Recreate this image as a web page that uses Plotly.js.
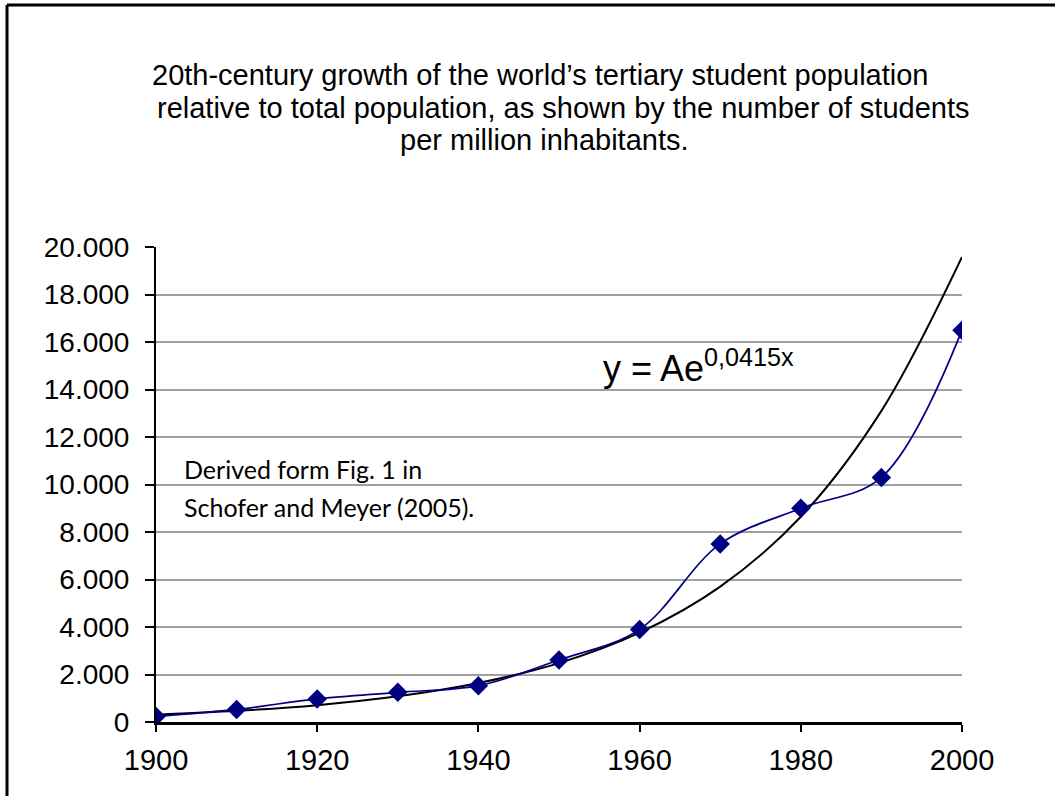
<!DOCTYPE html>
<html>
<head>
<meta charset="utf-8">
<script src="https://cdn.plot.ly/plotly-3.0.1.min.js"></script>
<style>
  html, body { margin: 0; padding: 0; background: #fff; overflow: hidden; }
  #chart { width: 1055px; height: 796px; }
</style>
</head>
<body>
<div id="chart"></div>
<script>
// ---- data ----
const years = [1900, 1910, 1920, 1930, 1940, 1950, 1960, 1970, 1980, 1990, 2000];
const studentsPerMillion = [230, 530, 970, 1250, 1530, 2610, 3900, 7500, 9000, 10300, 16500];
const trendValues = [310, 470, 710, 1080, 1640, 2480, 3760, 5700, 8640, 13100, 19580];
const yTicks = [0, 2000, 4000, 6000, 8000, 10000, 12000, 14000, 16000, 18000, 20000];
const xTicks = [1900, 1920, 1940, 1960, 1980, 2000];
const titleLines = [
  "20th-century growth of the world\u2019s tertiary student population",
  "relative to total population, as shown by the number of students",
  "per million inhabitants."
];
const equationText = "y = Ae<sup>0,0415x</sup>";
const sourceLines = ["Derived form Fig. 1 in", "Schofer and Meyer (2005)."];

// ---- layout geometry (pixels) ----
const W = 1055, H = 796;
const L = 156, R = 962, T = 247, B = 722;
const px2paperX = p => (p - L) / (R - L);
const py2paperY = p => (B - p) / (B - T);

const baseFont = "Liberation Sans, Arial, sans-serif";

const traces = [
  {
    x: years, y: trendValues, type: "scatter", mode: "lines",
    line: { color: "#000000", width: 2, shape: "spline", smoothing: 1 },
    hoverinfo: "skip", showlegend: false
  },
  {
    x: years, y: studentsPerMillion, type: "scatter", mode: "lines+markers",
    line: { color: "#000080", width: 1.7, shape: "spline", smoothing: 1 },
    marker: { symbol: "diamond", size: 15, color: "#000080" },
    showlegend: false
  }
];

const titleCentersX = [540, 563, 544];
const titleCentersY = [75, 108, 140];

const annotations = [];
titleLines.forEach((t, i) => {
  annotations.push({
    text: t, xref: "paper", yref: "paper",
    x: px2paperX(titleCentersX[i]), y: py2paperY(titleCentersY[i]),
    xanchor: "center", yanchor: "middle", showarrow: false,
    font: { family: baseFont, size: 29, color: "#000" }
  });
});
annotations.push({
  text: equationText, xref: "paper", yref: "paper",
  x: px2paperX(601), y: py2paperY(366),
  xanchor: "left", yanchor: "middle", showarrow: false,
  font: { family: baseFont, size: 36, color: "#000" }
});
const srcY = [469, 507];
sourceLines.forEach((t, i) => {
  annotations.push({
    text: t, xref: "paper", yref: "paper",
    x: px2paperX(182), y: py2paperY(srcY[i]),
    xanchor: "left", yanchor: "middle", showarrow: false,
    font: { family: "Lato, Open Sans, sans-serif", size: 25, color: "#000" }
  });
});

const layout = {
  width: W, height: H,
  margin: { l: L, r: W - R, t: T, b: H - B, pad: 0 },
  paper_bgcolor: "#ffffff", plot_bgcolor: "#ffffff",
  separators: ",.",
  font: { family: baseFont, color: "#000" },
  xaxis: {
    range: [1900, 2000], tickvals: xTicks, ticktext: xTicks.map(String),
    showgrid: false, zeroline: false,
    showline: true, linecolor: "#000", linewidth: 3,
    ticks: "outside", ticklen: 7, tickwidth: 2, tickcolor: "#000",
    tickfont: { family: baseFont, size: 29, color: "#000" },
    ticklabelstandoff: 3, fixedrange: true
  },
  yaxis: {
    range: [0, 20000], tickvals: yTicks, tickformat: ",d",
    showgrid: true, gridcolor: "#a0a0a0", gridwidth: 2,
    zeroline: false,
    showline: true, linecolor: "#000", linewidth: 2,
    ticks: "outside", ticklen: 9, tickwidth: 2, tickcolor: "#000",
    tickfont: { family: baseFont, size: 28, color: "#000" },
    ticklabelstandoff: 10, fixedrange: true
  },
  annotations: annotations,
  shapes: [
    { type: "line", xref: "paper", yref: "paper",
      x0: px2paperX(7), x1: px2paperX(7), y0: py2paperY(H + 10), y1: py2paperY(5),
      line: { color: "#000", width: 3 } },
    { type: "line", xref: "paper", yref: "paper",
      x0: px2paperX(7), x1: px2paperX(W + 10), y0: py2paperY(5), y1: py2paperY(5),
      line: { color: "#000", width: 3 } }
  ]
};

Plotly.newPlot("chart", traces, layout, { displayModeBar: false, staticPlot: true });
</script>
</body>
</html>
